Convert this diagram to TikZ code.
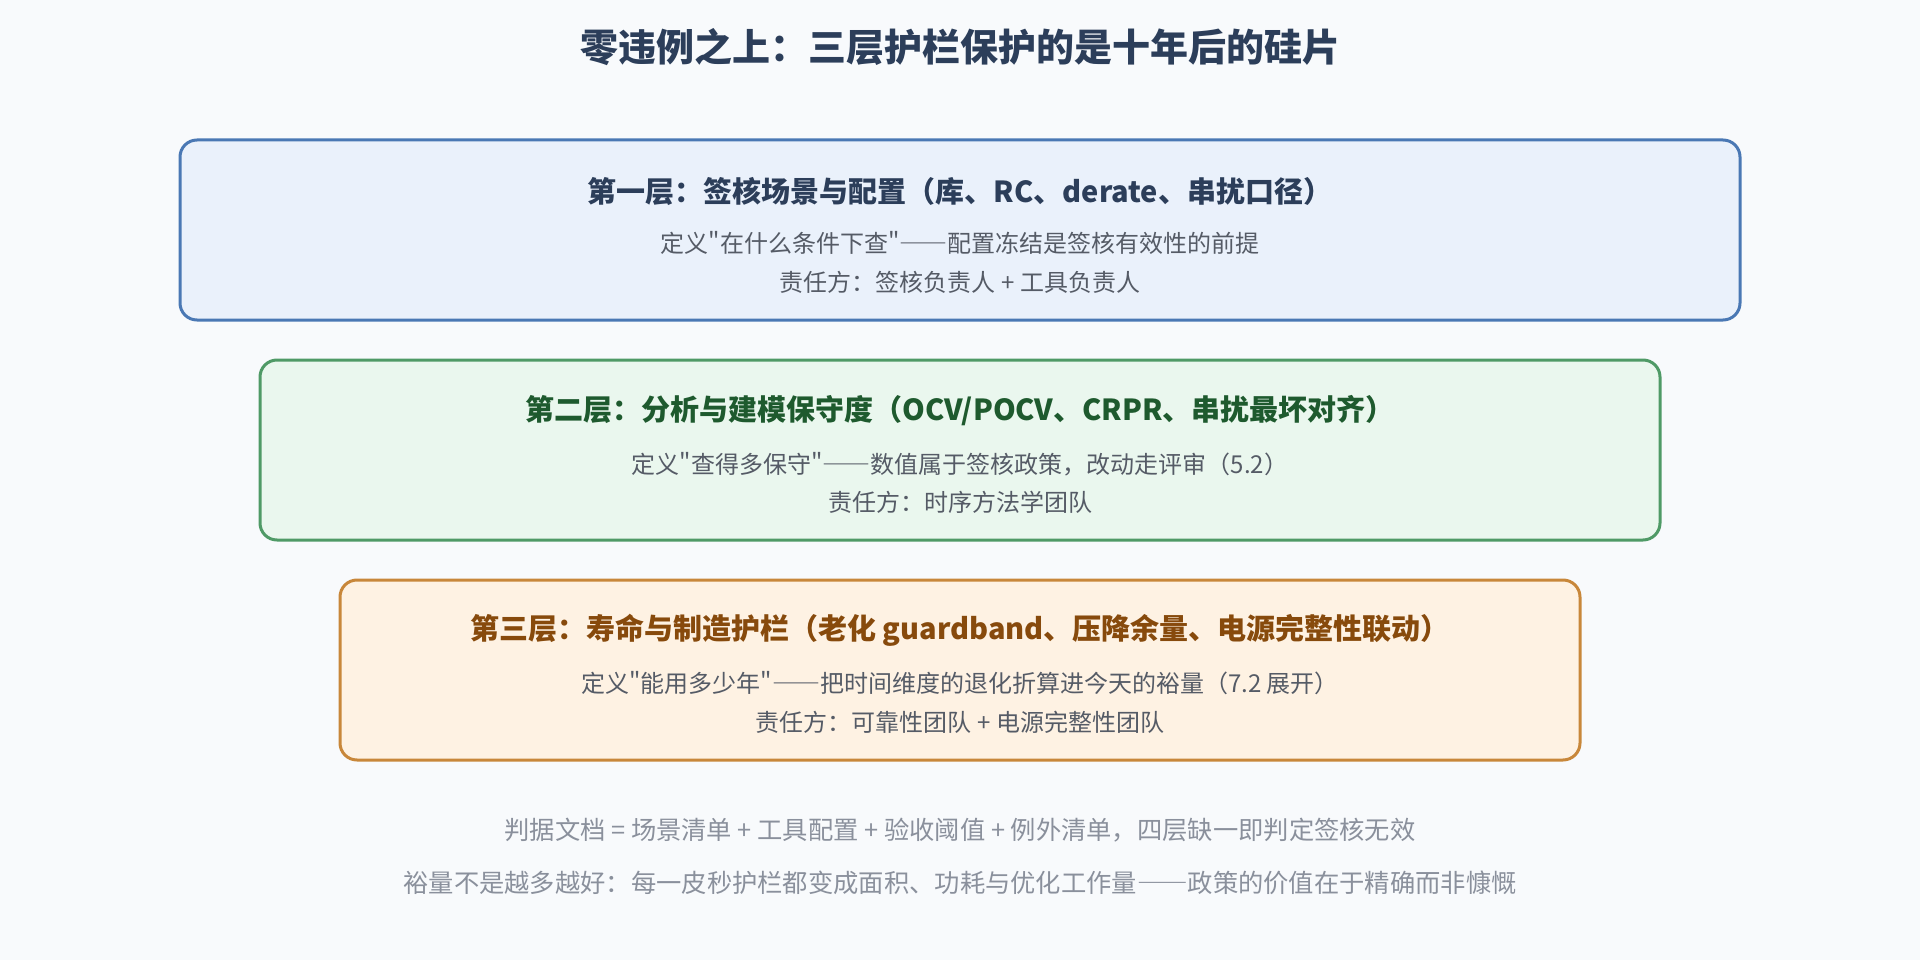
\documentclass[tikz,border=0pt]{standalone}
\usepackage{fontspec}
\setmainfont{Noto Sans CJK SC}[Ligatures=TeXOff, Script=CJK, Language=Chinese Simplified]
\definecolor{bgc}{HTML}{F8FAFC}
\definecolor{ttlc}{HTML}{2C3E5A}
\definecolor{bA}{HTML}{4A78B4}
\definecolor{fA}{HTML}{EAF1FB}
\definecolor{tA}{HTML}{2C3E5A}
\definecolor{bB}{HTML}{4F9A66}
\definecolor{fB}{HTML}{EAF7EE}
\definecolor{tB}{HTML}{1E5A2E}
\definecolor{bC}{HTML}{C8873A}
\definecolor{fC}{HTML}{FEF2E3}
\definecolor{tC}{HTML}{874A0C}
\definecolor{bodyc}{HTML}{555B66}
\definecolor{footc}{HTML}{8A909C}
\tikzset{
  layerbox/.style={draw, rounded corners=17pt, line width=3pt, inner sep=0pt},
  maintitle/.style={inner sep=0pt, text=ttlc, font=\fontsize{38}{44}\selectfont\bfseries},
  laytitle/.style={inner sep=0pt, font=\fontsize{29}{34}\selectfont\bfseries},
  laybody/.style={inner sep=0pt, text=bodyc, font=\fontsize{24}{29}\selectfont},
  foottext/.style={inner sep=0pt, text=footc, font=\fontsize{25.3}{30}\selectfont}
}
\begin{document}
\begin{tikzpicture}[x=1pt,y=-1pt]
\fill[bgc] (0,0) rectangle (1920,960);
\useasboundingbox (0,0) rectangle (1920,960);

\node[maintitle] (title) at (960,47) {零违例之上：三层护栏保护的是十年后的硅片};

% Layer 1
\node[layerbox, draw=bA, fill=fA, minimum width=1560pt, minimum height=180pt] (L1) at (960,230) {};
\node[laytitle, text=tA] (L1t) at (960,191) {第一层：签核场景与配置（库、RC、derate、串扰口径）};
\node[laybody] (L1a) at (960,243) {定义"在什么条件下查"——配置冻结是签核有效性的前提};
\node[laybody] (L1b) at (960,282) {责任方：签核负责人 + 工具负责人};

% Layer 2
\node[layerbox, draw=bB, fill=fB, minimum width=1400pt, minimum height=180pt] (L2) at (960,450) {};
\node[laytitle, text=tB] (L2t) at (960,411) {第二层：分析与建模保守度（OCV/POCV、CRPR、串扰最坏对齐）};
\node[laybody] (L2a) at (960,464) {定义"查得多保守"——数值属于签核政策，改动走评审（5.2）};
\node[laybody] (L2b) at (960,502) {责任方：时序方法学团队};

% Layer 3
\node[layerbox, draw=bC, fill=fC, minimum width=1240pt, minimum height=180pt] (L3) at (960,670) {};
\node[laytitle, text=tC] (L3t) at (960,630) {第三层：寿命与制造护栏（老化 guardband、压降余量、电源完整性联动）};
\node[laybody] (L3a) at (960,683) {定义"能用多少年"——把时间维度的退化折算进今天的裕量（7.2 展开）};
\node[laybody] (L3b) at (960,722) {责任方：可靠性团队 + 电源完整性团队};

% Footer
\node[foottext] (F1) at (960,830) {判据文档 = 场景清单 + 工具配置 + 验收阈值 + 例外清单，四层缺一即判定签核无效};
\node[foottext] (F2) at (960,883) {裕量不是越多越好：每一皮秒护栏都变成面积、功耗与优化工作量——政策的价值在于精确而非慷慨};
\end{tikzpicture}
\end{document}
